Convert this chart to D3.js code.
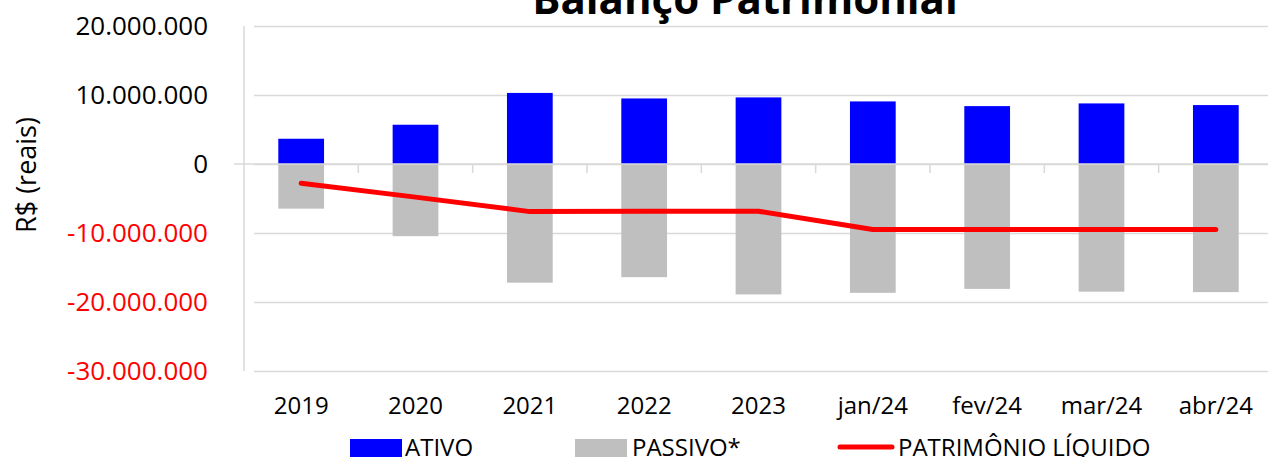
<!DOCTYPE html>
<html lang="pt">
<head>
    <meta charset="UTF-8">
    <title>Balanço Patrimonial</title>
    <script src="https://d3js.org/d3.v7.min.js"></script>
    <style>
        body { margin: 0; background: #fff; }
        svg { display: block; font-family: "Open Sans", sans-serif; }
        .grid line { stroke: #d9d9d9; stroke-width: 1.5; }
        .grid path { display: none; }
    </style>
</head>
<body>
<script>
    const categories = ["2019", "2020", "2021", "2022", "2023", "jan/24", "fev/24", "mar/24", "abr/24"];
    const ativo = [3660000, 5690000, 10300000, 9500000, 9650000, 9070000, 8390000, 8780000, 8540000];
    const passivo = [-6470000, -10460000, -17200000, -16400000, -18900000, -18670000, -18100000, -18500000, -18570000];
    const patrimonio = [-2800000, -4800000, -6900000, -6850000, -6850000, -9500000, -9500000, -9500000, -9500000];
    const yTicks = [20000000, 10000000, 0, -10000000, -20000000, -30000000];

    const width = 1268;
    const height = 457;
    const plot = {left: 244, right: 1273, top: 26, bottom: 371};

    const svg = d3.select("body").append("svg")
        .attr("width", width).attr("height", height);

    const x = d3.scaleBand()
        .domain(categories)
        .range([plot.left, plot.right])
        .paddingInner(0.6).paddingOuter(0.3);

    const y = d3.scaleLinear()
        .domain([-30000000, 20000000])
        .range([plot.bottom, plot.top]);

    const fmt = v => d3.format(",")(v).replace(/,/g, ".").replace("−", "-");

    // horizontal gridlines
    svg.append("g")
        .attr("class", "grid")
        .attr("transform", `translate(${plot.left},0)`)
        .call(d3.axisLeft(y).tickValues(yTicks).tickSize(-(width - plot.left)).tickFormat(""))
        .call(g => g.selectAll("line").attr("x1", 10));

    // vertical axis line
    svg.append("line")
        .attr("x1", plot.left).attr("x2", plot.left)
        .attr("y1", plot.top).attr("y2", plot.bottom)
        .attr("stroke", "#d9d9d9").attr("stroke-width", 1.5);

    // y tick labels
    svg.append("g").selectAll("text")
        .data(yTicks)
        .join("text")
        .attr("x", 208)
        .attr("y", d => y(d))
        .attr("dy", "0.36em")
        .attr("text-anchor", "end")
        .attr("font-size", 26)
        .attr("fill", d => d < 0 ? "#ff0000" : "#000")
        .text(fmt);

    // y title
    svg.append("text")
        .attr("transform", "translate(36,175) rotate(-90)")
        .attr("text-anchor", "middle")
        .attr("font-size", 27)
        .text("R$ (reais)");

    // title
    svg.append("text")
        .attr("x", 745).attr("y", 14)
        .attr("text-anchor", "middle")
        .attr("font-size", 42)
        .attr("font-weight", "bold")
        .text("Balanço Patrimonial");

    const step = x.step();

    // bars
    svg.append("g").selectAll("rect")
        .data(ativo)
        .join("rect")
        .attr("x", (d, i) => x(categories[i]))
        .attr("width", x.bandwidth())
        .attr("y", d => y(d))
        .attr("height", d => y(0) - y(d))
        .attr("fill", "#0000ff");

    svg.append("g").selectAll("rect")
        .data(passivo)
        .join("rect")
        .attr("x", (d, i) => x(categories[i]))
        .attr("width", x.bandwidth())
        .attr("y", y(0))
        .attr("height", d => y(d) - y(0))
        .attr("fill", "#bfbfbf");

    // zero line + category ticks
    svg.append("line")
        .attr("x1", plot.left - 10).attr("x2", width)
        .attr("y1", y(0)).attr("y2", y(0))
        .attr("stroke", "#d9d9d9").attr("stroke-width", 1.5);

    svg.append("g").selectAll("line")
        .data(categories)
        .join("line")
        .attr("x1", d => x(d) - x.step() * x.paddingInner() / 2 + step)
        .attr("x2", d => x(d) - x.step() * x.paddingInner() / 2 + step)
        .attr("y1", y(0)).attr("y2", y(0) + 9)
        .attr("stroke", "#d9d9d9").attr("stroke-width", 1.5);

    // category labels
    svg.append("g").selectAll("text")
        .data(categories)
        .join("text")
        .attr("x", d => x(d) + x.bandwidth() / 2)
        .attr("y", 414)
        .attr("text-anchor", "middle")
        .attr("font-size", 24)
        .text(d => d);

    // patrimonio line
    const line = d3.line()
        .x((d, i) => x(categories[i]) + x.bandwidth() / 2)
        .y(d => y(d));

    svg.append("path")
        .datum(patrimonio)
        .attr("d", line)
        .attr("fill", "none")
        .attr("stroke", "#ff0000")
        .attr("stroke-width", 5)
        .attr("stroke-linecap", "round")
        .attr("stroke-linejoin", "round");

    // legend
    const legend = svg.append("g");
    legend.append("rect").attr("x", 350).attr("y", 439).attr("width", 52).attr("height", 20).attr("fill", "#0000ff");
    legend.append("text").attr("x", 405).attr("y", 456).attr("font-size", 24).text("ATIVO");
    legend.append("rect").attr("x", 575).attr("y", 439).attr("width", 52).attr("height", 20).attr("fill", "#bfbfbf");
    legend.append("text").attr("x", 632).attr("y", 456).attr("font-size", 24).text("PASSIVO*");
    legend.append("line").attr("x1", 840).attr("x2", 892).attr("y1", 447).attr("y2", 447)
        .attr("stroke", "#ff0000").attr("stroke-width", 5).attr("stroke-linecap", "round");
    legend.append("text").attr("x", 898).attr("y", 456).attr("font-size", 24).text("PATRIMÔNIO LÍQUIDO");
</script>
</body>
</html>
